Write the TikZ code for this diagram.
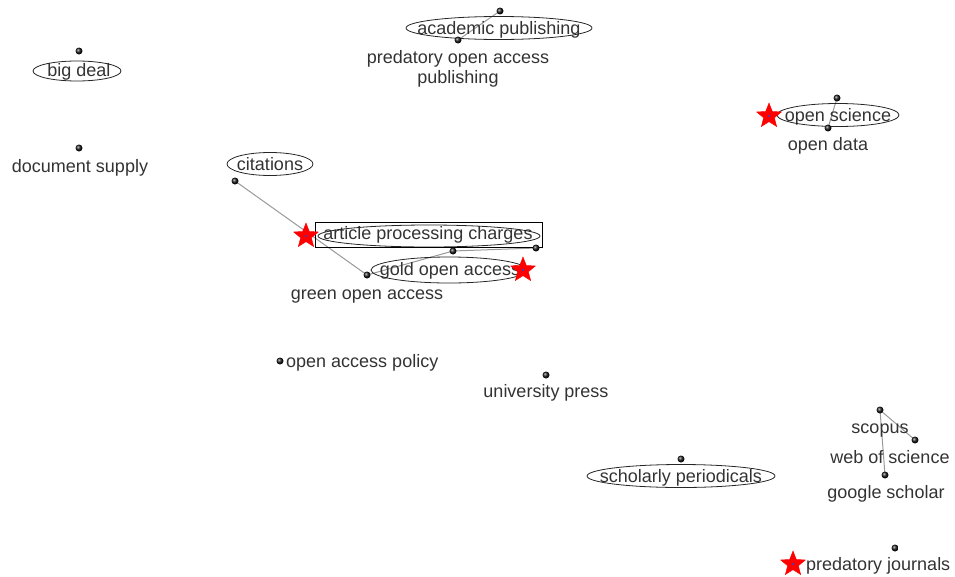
\documentclass[tikz,border=0pt]{standalone}
\usepackage{fontspec}
\setmainfont{Liberation Sans}
\usetikzlibrary{shapes.geometric}
\begin{document}
\begin{tikzpicture}[x=1pt,y=-1pt,
  lbl/.style={inner sep=0pt,text=black!80,font=\fontsize{18}{20}\selectfont,text height=13pt,text depth=4pt},
  pin/.style={circle,inner sep=0pt,minimum size=7pt,ball color=black!90,draw=none},
  link/.style={draw=black!40,line width=1pt},
  ring/.style={draw=black!85,line width=0.8pt},
  hot/.style={star,star points=5,star point ratio=2.3,minimum size=26pt,inner sep=0pt,fill=red,draw=red},
  core/.style={circle,inner sep=0pt,minimum size=2.5pt,fill=blue!50!gray}]
\useasboundingbox (0,0) rectangle (955,576);

% dots
\coordinate (pBig) at (79,51);
\coordinate (pDoc) at (79,148);
\coordinate (pCit) at (235,181);
\coordinate (pApc) at (453,251);
\coordinate (pGold) at (536,248);
\coordinate (pGreen) at (367,275);
\coordinate (pAcad) at (500,11);
\coordinate (pPred) at (458,40);
\coordinate (pSci) at (837,98);
\coordinate (pData) at (828,128);
\coordinate (pPol) at (280,361);
\coordinate (pUni) at (546,375);
\coordinate (pSchol) at (681,459);
\coordinate (pScop) at (880,410);
\coordinate (pWos) at (915,440);
\coordinate (pGs) at (885,475);
\coordinate (pPj) at (895,548);

% connectors
\draw[link] (pCit) -- (pGreen);
\draw[link] (pApc) -- (pGold);
\draw[link] (pApc) -- (pGreen);
\draw[link] (pAcad) -- (pPred);
\draw[link] (pSci) -- (pData);
\draw[link] (pScop) -- (pWos);
\draw[link] (pScop) -- (pGs);

% labels
\node[lbl] (tBig) at (79,72) {big deal};
\node[lbl] (tDoc) at (80,168) {document supply};
\node[lbl] (tCit) at (270,166) {citations};
\node[lbl] (tApc) at (428,235) {article processing charges};
\node[lbl] (tGold) at (450,271) {gold open access};
\node[lbl] (tGreen) at (367,295) {green open access};
\node[lbl] (tAcad) at (499,30) {academic publishing};
\node[lbl,align=center] (tPred) at (458,79) {predatory open access\\publishing};
\node[lbl] (tSci) at (838,117) {open science};
\node[lbl] (tData) at (828,146) {open data};
\node[lbl,anchor=west] (tPol) at (286,363) {open access policy};
\node[lbl] (tUni) at (546,393) {university press};
\node[lbl] (tSchol) at (681,478) {scholarly periodicals};
\node[lbl] (tScop) at (880,429) {scopus};
\node[lbl] (tWos) at (890,459) {web of science};
\node[lbl] (tGs) at (886,494) {google scholar};
\node[lbl,anchor=west] (tPj) at (806,566) {predatory journals};

% rings around highlighted terms
\draw[ring] (77,71) ellipse [x radius=44, y radius=10];
\draw[ring] (270,164) ellipse [x radius=43, y radius=11.5];
\draw[ring] (429,236) ellipse [x radius=111, y radius=11];
\draw[ring] (449,270) ellipse [x radius=78, y radius=13];
\draw[ring] (499,28) ellipse [x radius=93, y radius=11.5];
\draw[ring] (838,115) ellipse [x radius=61, y radius=11.5];
\draw[ring] (681,476) ellipse [x radius=94, y radius=11.5];
\draw[black,line width=0.9pt] (315,222) rectangle (542,247);

% dot markers
\foreach \p in {pBig,pDoc,pCit,pApc,pGold,pGreen,pAcad,pPred,pSci,pData,pPol,pUni,pSchol,pScop,pWos,pGs,pPj}
  \node[pin] at (\p) {};

% stars
\node[hot] (sApc) at (306,236) {};
\node[core] at (sApc) {};
\node[hot] (sGold) at (523,270) {};
\node[core] at (sGold) {};
\node[hot] (sSci) at (769,116) {};
\node[core] at (sSci) {};
\node[hot] (sPj) at (793,564) {};
\node[core] at (sPj) {};
\end{tikzpicture}
\end{document}
